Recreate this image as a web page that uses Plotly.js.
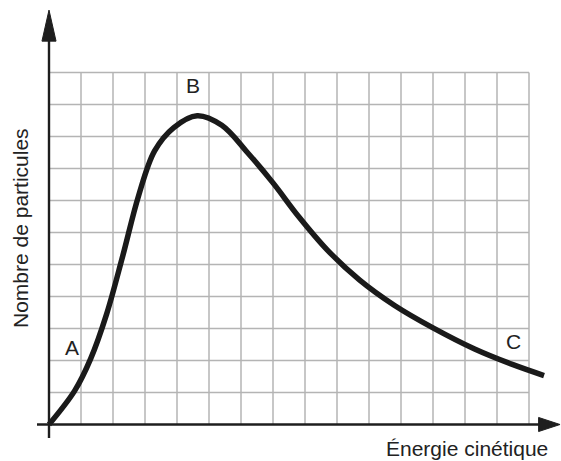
<!DOCTYPE html>
<html>
<head>
<meta charset="utf-8">
<script src="https://cdn.plot.ly/plotly-3.0.1.min.js"></script>
<style>html,body{margin:0;padding:0;background:#fff;}#chart{width:561px;height:461px;}</style>
</head>
<body>
<div id="chart"></div>
<script>
// Curve values, in grid units (15 columns x 11 rows)
const energie = [0, 0.8, 1.3, 1.8, 2.3, 2.8, 3.3, 3.9, 4.63, 5.4, 6.2, 7.0, 7.8, 8.7, 9.7, 10.8, 12.0, 13.3, 14.5, 15.47];
const particules = [0, 1.05, 2.05, 3.45, 5.25, 7.15, 8.55, 9.28, 9.65, 9.35, 8.5, 7.55, 6.5, 5.45, 4.52, 3.72, 3.02, 2.36, 1.87, 1.53];
const gridX = [0,1,2,3,4,5,6,7,8,9,10,11,12,13,14,15];
const gridY = [0,1,2,3,4,5,6,7,8,9,10,11];
const pointLabels = ['A', 'B', 'C'];
const pointX = [0.72, 4.5, 14.5];
const pointY = [2.4, 10.6, 2.6];
const xTitle = 'Énergie cinétique';
const yTitle = 'Nombre de particules';

const gridColor = '#b4b4b4';
const axisColor = '#1e1e1e';
const textFont = {family:'Liberation Sans, Arial, sans-serif', size:21, color:'#222'};
const px2x = p => (p - 49) / 32;
const px2y = p => (424.5 - p) / 32;

const shapes = [];
const xMax = gridX[gridX.length-1], yMax = gridY[gridY.length-1];
gridX.forEach(v => { if (v > 0) shapes.push({type:'line', xref:'x', yref:'y', x0:v, x1:v, y0:0, y1:yMax, line:{color:gridColor, width:1.5}, layer:'below'}); });
gridY.forEach(v => { if (v > 0) shapes.push({type:'line', xref:'x', yref:'y', x0:0, x1:xMax, y0:v, y1:v, line:{color:gridColor, width:1.5}, layer:'below'}); });
// axes with arrows
shapes.push({type:'line', xref:'x', yref:'y', x0:px2x(37), x1:15.4, y0:0, y1:0, line:{color:axisColor, width:2.4}});
shapes.push({type:'line', xref:'x', yref:'y', x0:0, x1:0, y0:px2y(438), y1:12.05, line:{color:axisColor, width:2.4}});
shapes.push({type:'path', xref:'x', yref:'y', path:'M 15.3 -0.22 L 15.97 0 L 15.3 0.22 Z', fillcolor:axisColor, line:{color:axisColor, width:1}});
shapes.push({type:'path', xref:'x', yref:'y', path:'M -0.22 11.98 L 0 12.95 L 0.22 11.98 Z', fillcolor:axisColor, line:{color:axisColor, width:1}});

const annotations = pointLabels.map((t,i) => ({text:t, x:pointX[i], y:pointY[i], xref:'x', yref:'y', showarrow:false, font:textFont}));
annotations.push({text:xTitle, x:px2x(467), y:px2y(448), xref:'x', yref:'y', showarrow:false, font:textFont});
annotations.push({text:yTitle, x:px2x(20), y:px2y(228), xref:'x', yref:'y', textangle:-90, showarrow:false, font:textFont});

const trace = {x: energie, y: particules, type:'scatter', mode:'lines', line:{color:'#1a1a1a', width:5.5, shape:'spline', smoothing:1}, hoverinfo:'skip'};

const layout = {
  width:561, height:461,
  margin:{l:0, r:0, t:0, b:0},
  paper_bgcolor:'#fff', plot_bgcolor:'#fff',
  showlegend:false,
  xaxis:{range:[px2x(0), px2x(561)], visible:false, fixedrange:true},
  yaxis:{range:[px2y(461), px2y(0)], visible:false, fixedrange:true},
  shapes: shapes,
  annotations: annotations
};
Plotly.newPlot('chart', [trace], layout, {displayModeBar:false, staticPlot:true});
</script>
</body>
</html>
